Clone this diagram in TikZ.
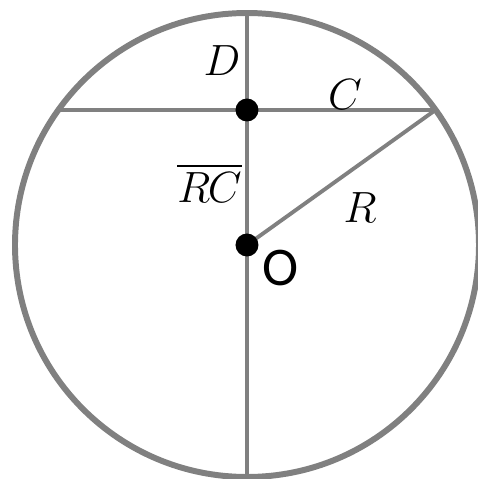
\documentclass[tikz,border=0pt]{standalone}
\usepackage{amsmath}
\usepackage{fontspec}
\newfontfamily\labelfont{Carlito}
\usepackage{tikz}
\usetikzlibrary{positioning, calc}
\definecolor{linegray}{RGB}{128,128,128}
\tikzset{
  dot/.style={circle, fill=black, inner sep=0pt, minimum size=0.46cm},
  lbl/.style={font=\fontsize{23}{27}\selectfont, inner sep=0pt},
}
\begin{document}
\begin{tikzpicture}
\useasboundingbox (-4.94,-4.68) rectangle (4.60,4.90);
\coordinate (O) at (0,0);
\coordinate (top) at (0,4.64);
\coordinate (bot) at (0,-4.64);
\coordinate (A) at (-3.77,2.7);
\coordinate (B) at (3.77,2.7);
\coordinate (M) at (0,2.7);
\draw[linegray, line width=3.4pt] (O) circle (4.64);
\draw[linegray, line width=2.2pt] (top) -- (bot);
\draw[linegray, line width=2.2pt] (A) -- (B);
\draw[linegray, line width=2.2pt] (O) -- (B);
\node[dot] (dM) at (M) {};
\node[dot] (dO) at (O) {};
\node[lbl] (lD) at (-0.5,3.68) {$D$};
\node[lbl] (lC) at (1.96,3.0) {$C$};
\node[lbl, anchor=east] (lRC) at (-0.1,1.24) {$\overline{R\mkern-1mu C}$};
\node[lbl] (lR) at (2.26,0.74) {$R$};
\node[lbl, font=\labelfont\fontsize{31}{36}\selectfont] (lO) at (0.68,-0.46) {O};
\end{tikzpicture}
\end{document}
